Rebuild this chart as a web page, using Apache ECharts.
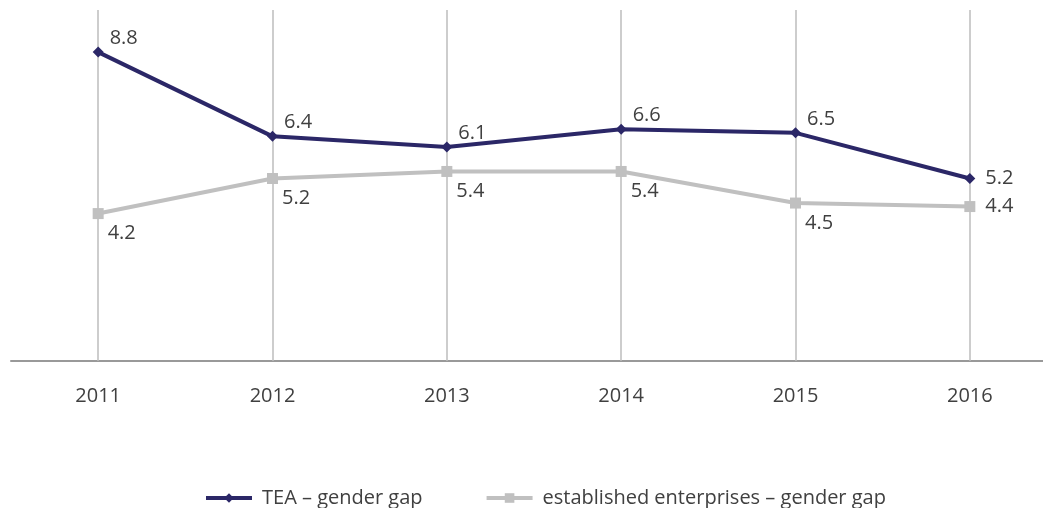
<!DOCTYPE html>
<html>
<head>
<meta charset="utf-8">
<script src="https://cdn.jsdelivr.net/npm/echarts@6/dist/echarts.min.js"></script>
<style>
  html, body { margin: 0; padding: 0; background: #fff; }
  #chart { width: 1043px; height: 508px; }
</style>
</head>
<body>
<div id="chart"></div>
<script>
// Years on the horizontal axis
const years = ['2011', '2012', '2013', '2014', '2015', '2016'];
// Gender gap in total early-stage entrepreneurial activity
const teaGap = [8.8, 6.4, 6.1, 6.6, 6.5, 5.2];
// Gender gap among established business owners
const establishedGap = [4.2, 5.2, 5.4, 5.4, 4.5, 4.4];

const seriesNames = ['TEA – gender gap', 'established enterprises – gender gap'];

const FONT = '"Open Sans", "Liberation Sans", sans-serif';
const TEXT = '#404040';
const NAVY = '#2b2767';
const LIGHT = '#c0c0c0';
const FS = 20;

const chart = echarts.init(document.getElementById('chart'), null, { renderer: 'canvas' });

// the last point of each series carries its label straight to the right
function withLabels(values, normal) {
  return values.map((v, i) => i === values.length - 1
    ? { value: v, label: { position: 'right', distance: 10, offset: [0, 0] } }
    : { value: v, label: normal });
}

chart.setOption({
  animation: false,
  backgroundColor: '#fff',
  textStyle: { fontFamily: FONT },
  grid: {
    left: 11, width: 1046, top: 10, bottom: 147,
    outerBoundsMode: 'none', containLabel: false
  },
  xAxis: {
    type: 'category',
    data: years,
    boundaryGap: true,
    axisLine: { lineStyle: { color: '#999', width: 2 } },
    axisTick: { show: false },
    axisLabel: { color: TEXT, fontSize: FS, fontFamily: FONT, margin: 25 },
    splitLine: { show: false }
  },
  yAxis: {
    type: 'value',
    min: 0,
    max: 10,
    show: false,
    splitLine: { show: false }
  },
  legend: {
    top: 483,
    left: 199,
    itemWidth: 46,
    itemHeight: 12,
    itemGap: 62,
    lineStyle: { width: 4 },
    textStyle: { color: TEXT, fontSize: FS, fontFamily: FONT, padding: [0, 0, 0, 5] },
    data: seriesNames
  },
  series: [
    {
      name: seriesNames[0],
      type: 'line',
      data: withLabels(teaGap, { position: 'right', offset: [2, -14] }),
      symbol: 'diamond',
      symbolSize: 11,
      lineStyle: { color: NAVY, width: 4 },
      itemStyle: { color: NAVY },
      z: 3,
      label: {
        show: true,
        color: TEXT,
        fontSize: FS,
        fontFamily: FONT,
        distance: 4
      },
      markLine: {
        silent: true,
        symbol: 'none',
        label: { show: false },
        lineStyle: { color: '#bdbdbd', width: 1.5, type: 'solid' },
        z: 1,
        data: years.map(y => ({ xAxis: y }))
      }
    },
    {
      name: seriesNames[1],
      type: 'line',
      data: withLabels(establishedGap, { position: 'right', offset: [0, 20] }),
      symbol: 'rect',
      symbolSize: 11,
      lineStyle: { color: LIGHT, width: 4 },
      itemStyle: { color: LIGHT },
      z: 2,
      label: {
        show: true,
        color: TEXT,
        fontSize: FS,
        fontFamily: FONT,
        distance: 4
      }
    }
  ]
});
</script>
</body>
</html>
